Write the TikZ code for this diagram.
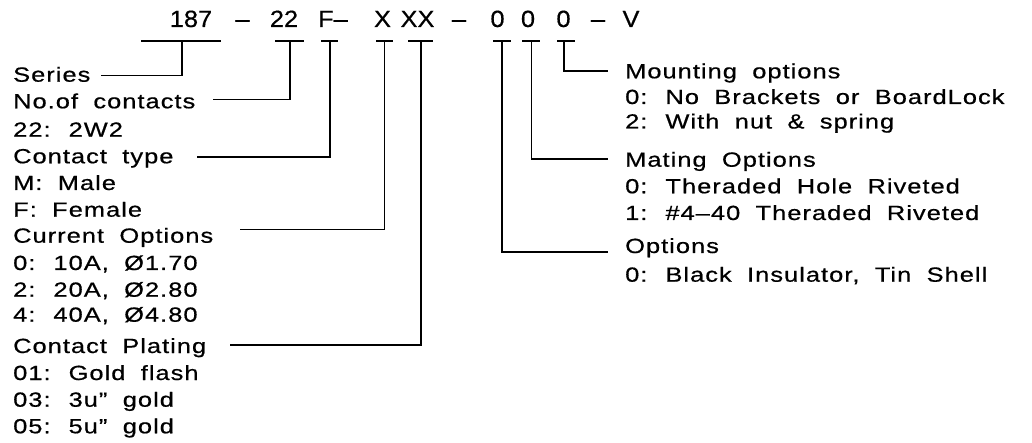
\documentclass[tikz,border=0pt]{standalone}
\usepackage{fontspec}
\setmainfont{Liberation Sans}
\newfontfamily\lblfont{Liberation Sans}[FakeStretch=1.24,LetterSpace=5,WordSpace=1.9,FakeBold=0.6]
\newfontfamily\codefont{Liberation Sans}[FakeStretch=1.08,FakeBold=0.6]
\tikzset{
  lbl/.style={anchor=base west,inner sep=0pt,font=\lblfont\fontsize{20.5}{21}\selectfont},
  code/.style={anchor=base,inner sep=0pt,font=\codefont\fontsize{23.5}{24}\selectfont},
  wire/.style={line width=1.7pt}
}
\begin{document}
\begin{tikzpicture}[x=1pt,y=-1pt]
\useasboundingbox (0,0) rectangle (1032,443);
% code line
\node[code] (c187) at (191,27) {187};
\node[code] (d1) at (242.5,27) {–};
\node[code] (c22) at (284,27) {22};
\node[code] (cF) at (333,27) {F–};
\node[code] (cX) at (382.5,27) {X};
\node[code] (cXX) at (417.5,27) {XX};
\node[code] (d2) at (459,27) {–};
\node[code] (c0a) at (497.5,27) {0};
\node[code] (c0b) at (528,27) {0};
\node[code] (c0c) at (563.5,27) {0};
\node[code] (d3) at (598,27) {–};
\node[code] (cV) at (631,27) {V};
% left labels
\node[lbl] (lSeries) at (13,81.7) {Series};
\node[lbl] (lNoc) at (13,108.3) {No.of contacts};
\node[lbl] (lNocA) at (13,136.7) {22: 2W2};
\node[lbl] (lType) at (13,163.3) {Contact type};
\node[lbl] (lTypeM) at (13,190) {M: Male};
\node[lbl] (lTypeF) at (13,216.7) {F: Female};
\node[lbl] (lCur) at (13,242.7) {Current Options};
\node[lbl] (lCur0) at (13,270) {0: 10A, Ø1.70};
\node[lbl] (lCur2) at (13,296.7) {2: 20A, Ø2.80};
\node[lbl] (lCur4) at (13,321.7) {4: 40A, Ø4.80};
\node[lbl] (lPlat) at (13,353) {Contact Plating};
\node[lbl] (lPlat1) at (13,380) {01: Gold flash};
\node[lbl] (lPlat3) at (13,406.7) {03: 3u” gold};
\node[lbl] (lPlat5) at (13,433.3) {05: 5u” gold};
% right labels
\node[lbl] (rMount) at (625,78.3) {Mounting options};
\node[lbl] (rMount0) at (625,104) {0: No Brackets or BoardLock};
\node[lbl] (rMount2) at (625,128.5) {2: With nut \& spring};
\node[lbl] (rMate) at (625,166.7) {Mating Options};
\node[lbl] (rMate0) at (625,193.3) {0: Theraded Hole Riveted};
\node[lbl] (rMate1) at (625,220) {1: \#4–40 Theraded Riveted};
\node[lbl] (rOpt) at (625,253) {Options};
\node[lbl] (rOpt0) at (625,281.7) {0: Black Insulator, Tin Shell};
% bars
\coordinate (b187L) at (141,41); \coordinate (b187R) at (221,41); \coordinate (b187) at (181.7,41);
\coordinate (b22L) at (275,41); \coordinate (b22R) at (304,41); \coordinate (b22) at (290,41);
\coordinate (bFL) at (321,41); \coordinate (bFR) at (338,41); \coordinate (bF) at (330,41);
\coordinate (bXL) at (376,41); \coordinate (bXR) at (393,41); \coordinate (bX) at (384.5,41);
\coordinate (bXXL) at (408,41); \coordinate (bXXR) at (433,41); \coordinate (bXX) at (421,41);
\coordinate (b0aL) at (493,41); \coordinate (b0aR) at (511,41); \coordinate (b0a) at (501.7,41);
\coordinate (b0bL) at (522,41); \coordinate (b0bR) at (540,41); \coordinate (b0b) at (531.5,41);
\coordinate (b0cL) at (557,41); \coordinate (b0cR) at (575,41); \coordinate (b0c) at (564,41);
% line ends
\coordinate (eSeries) at (101,75.5);
\coordinate (eNoc) at (213,99.5);
\coordinate (eType) at (197,157);
\coordinate (eCur) at (240,229.5);
\coordinate (ePlat) at (230,345);
\coordinate (eMount) at (608,70.7);
\coordinate (eMate) at (608,159);
\coordinate (eOpt) at (608,251.7);
\foreach \b in {187,22,F,X,XX,0a,0b,0c}{\draw[wire] (b\b L) -- (b\b R);}
\draw[wire] (b187) |- (eSeries);
\draw[wire] (b22) |- (eNoc);
\draw[wire] (bF) |- (eType);
\draw[wire] (bX) |- (eCur);
\draw[wire] (bXX) |- (ePlat);
\draw[wire] (b0a) |- (eOpt);
\draw[wire] (b0b) |- (eMate);
\draw[wire] (b0c) |- (eMount);
\end{tikzpicture}
\end{document}
